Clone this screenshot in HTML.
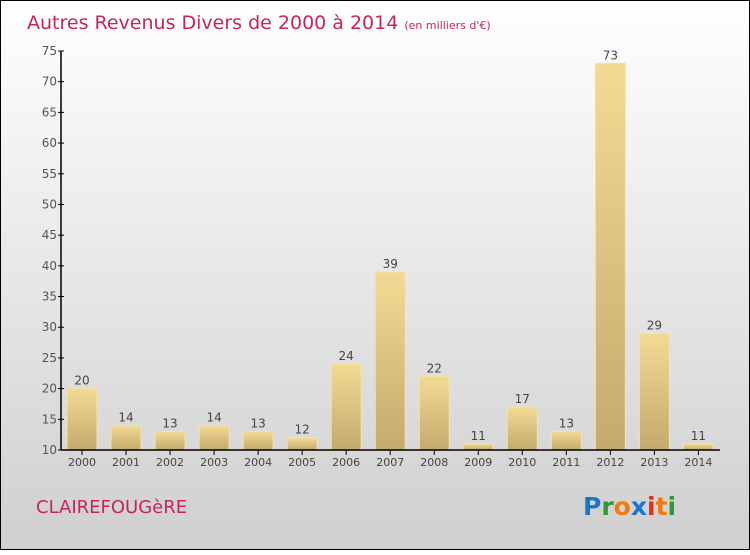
<!DOCTYPE html>
<html><head><meta charset="utf-8"><style>
body{margin:0}
svg text{font-family:"DejaVu Sans","Liberation Sans",sans-serif}
</style></head><body>
<svg width="750" height="550" viewBox="0 0 750 550" xmlns="http://www.w3.org/2000/svg">
<defs>
<linearGradient id="bg" x1="0" y1="0" x2="0" y2="1"><stop offset="0" stop-color="#ffffff"/><stop offset="1" stop-color="#cfcfcf"/></linearGradient>
<linearGradient id="bar" x1="0" y1="0" x2="0" y2="1"><stop offset="0" stop-color="#f3da94"/><stop offset="1" stop-color="#c4aa6c"/></linearGradient>
</defs>
<rect x="0.5" y="0.5" width="749" height="549" fill="url(#bg)" stroke="#000"/>
<text x="27" y="29" font-size="19" fill="#c8245a">Autres Revenus Divers de 2000 à 2014 <tspan font-size="11">(en milliers d'€)</tspan></text>
<g id="yaxis"></g>
<g id="bars"></g>
<g id="xaxis"></g>
<text x="36" y="513" font-size="18" fill="#c8245a">CLAIREFOUGèRE</text>
<text x="583" y="515" font-size="25" font-weight="bold"><tspan fill="#1a75d0">P</tspan><tspan fill="#2a9a3a">r</tspan><tspan fill="#f07a10">o</tspan><tspan fill="#1a75d0">x</tspan><tspan fill="#e03020">i</tspan><tspan fill="#f07a10">t</tspan><tspan fill="#2a9a3a">i</tspan></text>
</svg>
<script>
const categories=["2000","2001","2002","2003","2004","2005","2006","2007","2008","2009","2010","2011","2012","2013","2014"];
const values=[20,14,13,14,13,12,24,39,22,11,17,13,73,29,11];
const yTicks=[10,15,20,25,30,35,40,45,50,55,60,65,70,75];
const NS="http://www.w3.org/2000/svg";
const y=v=>450-(v-10)*(399/65);
const x=i=>82+i*44.03;
function mk(t,a,p,txt){const e=document.createElementNS(NS,t);for(const k in a)e.setAttribute(k,a[k]);if(txt!==undefined)e.textContent=txt;p.appendChild(e);return e;}
const ya=document.getElementById('yaxis'),ba=document.getElementById('bars'),xa=document.getElementById('xaxis');
mk('line',{x1:61,y1:y(75),x2:61,y2:450,stroke:'#000','stroke-width':1.5},ya);
yTicks.forEach(v=>{mk('line',{x1:58,y1:y(v),x2:64,y2:y(v),stroke:'#000'},ya);
const t=mk('text',{x:57,y:y(v)+4,'text-anchor':'end','font-size':12,fill:'#555'},ya,v);
});
mk('line',{x1:61,y1:450,x2:720,y2:450,stroke:'#000','stroke-width':1.5},xa);
categories.forEach((c,i)=>{
const r=mk('rect',{x:x(i)-15,y:y(values[i]),width:30,height:450-y(values[i]),fill:'url(#bar)',stroke:'#f5e4a8','stroke-width':1},ba);


const l=mk('text',{x:x(i),y:y(values[i])-4,'text-anchor':'middle','font-size':12,fill:'#444'},ba,values[i]);


mk('line',{x1:x(i),y1:450,x2:x(i),y2:455,stroke:'#000'},xa);
const xl=mk('text',{x:x(i),y:466,'text-anchor':'middle','font-size':11,fill:'#444'},xa,c);


});
</script>
</body></html>
